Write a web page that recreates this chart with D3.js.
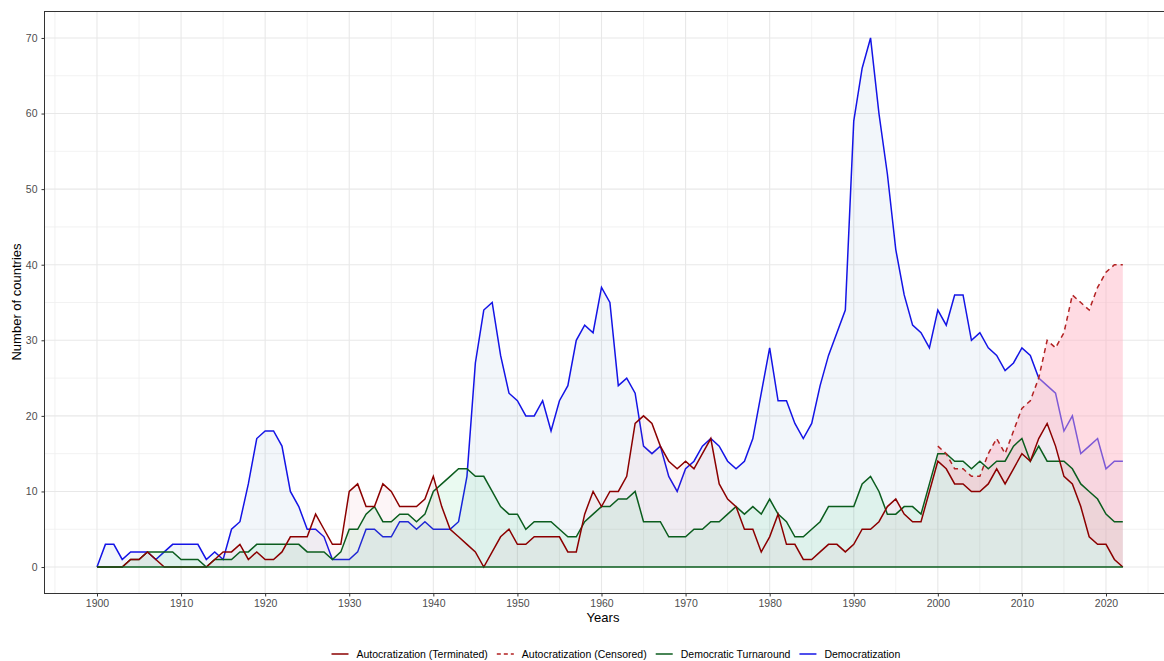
<!DOCTYPE html>
<html>
<head>
<meta charset="utf-8">
<script src="https://cdn.jsdelivr.net/npm/d3@7"></script>
<style>
    body { margin: 0; background: #fff; }
    svg { display: block; font-family: "Liberation Sans", Arial, sans-serif; }
</style>
</head>
<body>
<div id="chart"></div>
<script>
// years 1900 - 2022
let years = d3.range(1900, 2023);

// Democratization (blue)
let democratization = [
    0, 3, 3, 1, 2, 2, 2, 1, 2, 3,
    3, 3, 3, 1, 2, 1, 5, 6, 11, 17,
    18, 18, 16, 10, 8, 5, 5, 4, 1, 1,
    1, 2, 5, 5, 4, 4, 6, 6, 5, 6,
    5, 5, 5, 6, 12, 27, 34, 35, 28, 23,
    22, 20, 20, 22, 18, 22, 24, 30, 32, 31,
    37, 35, 24, 25, 23, 16, 15, 16, 12, 10,
    13, 14, 16, 17, 16, 14, 13, 14, 17, 23,
    29, 22, 22, 19, 17, 19, 24, 28, 31, 34,
    59, 66, 70, 60, 52, 42, 36, 32, 31, 29,
    34, 32, 36, 36, 30, 31, 29, 28, 26, 27,
    29, 28, 25, 24, 23, 18, 20, 15, 16, 17,
    13, 14, 14
];

// Autocratization (Terminated)
let autocTerminated = [
    0, 0, 0, 0, 1, 1, 2, 1, 0, 0,
    0, 0, 0, 0, 1, 2, 2, 3, 1, 2,
    1, 1, 2, 4, 4, 4, 7, 5, 3, 3,
    10, 11, 8, 8, 11, 10, 8, 8, 8, 9,
    12, 8, 5, 4, 3, 2, 0, 2, 4, 5,
    3, 3, 4, 4, 4, 4, 2, 2, 7, 10,
    8, 10, 10, 12, 19, 20, 19, 16, 14, 13,
    14, 13, 15, 17, 11, 9, 8, 5, 5, 2,
    4, 7, 3, 3, 1, 1, 2, 3, 3, 2,
    3, 5, 5, 6, 8, 9, 7, 6, 6, 10,
    14, 13, 11, 11, 10, 10, 11, 13, 11, 13,
    15, 14, 17, 19, 16, 12, 11, 8, 4, 3,
    3, 1, 0
];

// Democratic Turnaround
let demTurnaround = [
    0, 0, 0, 0, 1, 1, 2, 2, 2, 2,
    1, 1, 1, 0, 1, 1, 1, 2, 2, 3,
    3, 3, 3, 3, 3, 2, 2, 2, 1, 2,
    5, 5, 7, 8, 6, 6, 7, 7, 6, 7,
    10, 11, 12, 13, 13, 12, 12, 10, 8, 7,
    7, 5, 6, 6, 6, 5, 4, 4, 6, 7,
    8, 8, 9, 9, 10, 6, 6, 6, 4, 4,
    4, 5, 5, 6, 6, 7, 8, 7, 8, 7,
    9, 7, 6, 4, 4, 5, 6, 8, 8, 8,
    8, 11, 12, 10, 7, 7, 8, 8, 7, 11,
    15, 15, 14, 14, 13, 14, 13, 14, 14, 16,
    17, 14, 16, 14, 14, 14, 13, 11, 10, 9,
    7, 6, 6
];

// Autocratization (Censored), 2000 - 2022
let censoredYears = d3.range(2000, 2023);
let autocCensored = [
    16, 15, 13, 13, 12, 12, 15, 17, 15, 18,
    21, 22, 25, 30, 29, 31, 36, 35, 34, 37,
    39, 40, 40
];

let xTicks = d3.range(1900, 2021, 10);
let yTicks = d3.range(0, 71, 10);

let legendItems = [
    {name: "Autocratization (Terminated)", color: "#8b0000", dash: null},
    {name: "Autocratization (Censored)", color: "#b22222", dash: "4,3"},
    {name: "Democratic Turnaround", color: "#0b5d1e", dash: null},
    {name: "Democratization", color: "#1414e6", dash: null}
];

window.onload = function () {
    plot();
};

let toPoints = function (xs, vals) {
    return xs.map(function (yr, i) {
        return {year: yr, value: vals[i]};
    });
};

function plot() {
    let width = 1164, height = 661;
    let left = 44.5, top = 11.5, bottom = 593.5;

    let svg = d3.select("#chart").append("svg")
        .attr("width", width)
        .attr("height", height);

    // scales (ggplot style 5% expansion, the right side runs past the picture)
    let x = d3.scaleLinear().domain([1893.9, 2028.1]).range([45.7, 1174.1]);
    let y = d3.scaleLinear().domain([-3.5, 73.5]).range([bottom, top]);

    svg.append("clipPath").attr("id", "panel")
        .append("rect")
        .attr("x", left).attr("y", top)
        .attr("width", width - left).attr("height", bottom - top);

    let panel = svg.append("g").attr("clip-path", "url(#panel)");

    // grid
    let minorX = d3.range(1895, 2030, 10);
    let minorY = d3.range(5, 75, 10);
    panel.selectAll(".gxm").data(minorX).enter().append("line")
        .attr("x1", d => x(d)).attr("x2", d => x(d))
        .attr("y1", top).attr("y2", bottom)
        .attr("stroke", "#efefef").attr("stroke-width", 0.8);
    panel.selectAll(".gym").data(minorY).enter().append("line")
        .attr("x1", left).attr("x2", width)
        .attr("y1", d => y(d)).attr("y2", d => y(d))
        .attr("stroke", "#efefef").attr("stroke-width", 0.8);
    panel.selectAll(".gx").data(d3.range(1890, 2030, 10)).enter().append("line")
        .attr("x1", d => x(d)).attr("x2", d => x(d))
        .attr("y1", top).attr("y2", bottom)
        .attr("stroke", "#e8e8e8").attr("stroke-width", 1.1);
    panel.selectAll(".gy").data(yTicks).enter().append("line")
        .attr("x1", left).attr("x2", width)
        .attr("y1", d => y(d)).attr("y2", d => y(d))
        .attr("stroke", "#e8e8e8").attr("stroke-width", 1.1);

    let area = d3.area()
        .x(d => x(d.year))
        .y0(y(0))
        .y1(d => y(d.value));
    let line = d3.line()
        .x(d => x(d.year))
        .y(d => y(d.value));

    let demo = toPoints(years, democratization);
    let term = toPoints(years, autocTerminated);
    let turn = toPoints(years, demTurnaround);
    let cens = toPoints(censoredYears, autocCensored);

    // censored ribbon runs from the terminated line up to the censored line
    let censRibbon = d3.area()
        .x(d => x(d.year))
        .y0(d => y(autocTerminated[years.indexOf(d.year)]))
        .y1(d => y(d.value));

    // areas and lines, the later fills tint the blue line below them
    panel.append("path").attr("d", area(demo))
        .attr("fill", "#4682b4").attr("fill-opacity", 0.07);
    panel.append("path").attr("d", line(demo))
        .attr("fill", "none").attr("stroke", "#1414e6").attr("stroke-width", 1.5);

    panel.append("path").attr("d", area(turn))
        .attr("fill", "#2ecc71").attr("fill-opacity", 0.1);
    panel.append("path").attr("d", area(term))
        .attr("fill", "#e05070").attr("fill-opacity", 0.06);
    panel.append("path").attr("d", censRibbon(cens))
        .attr("fill", "#ffb0c0").attr("fill-opacity", 0.45);

    panel.append("path").attr("d", line(turn))
        .attr("fill", "none").attr("stroke", "#0b5d1e").attr("stroke-width", 1.5);
    panel.append("path").attr("d", line(term))
        .attr("fill", "none").attr("stroke", "#8b0000").attr("stroke-width", 1.5);
    panel.append("path").attr("d", line(cens))
        .attr("fill", "none").attr("stroke", "#b22222").attr("stroke-width", 1.5)
        .attr("stroke-dasharray", "5,4");

    // zero base line
    panel.append("path").attr("d", line(toPoints([1900, 2022], [0, 0])))
        .attr("stroke", "#0b5d1e").attr("stroke-width", 1.5);

    // panel border
    svg.append("rect")
        .attr("x", left).attr("y", top)
        .attr("width", 1174 - left).attr("height", bottom - top)
        .attr("fill", "none").attr("stroke", "#333").attr("stroke-width", 1);

    // axes
    let xAxis = d3.axisBottom(x).tickValues(xTicks).tickFormat(d3.format("d"))
        .tickSize(3).tickPadding(3);
    let gx = svg.append("g").attr("transform", "translate(0," + bottom + ")").call(xAxis);
    let yAxis = d3.axisLeft(y).tickValues(yTicks).tickSize(3).tickPadding(4);
    let gy = svg.append("g").attr("transform", "translate(" + left + ",0)").call(yAxis);
    [gx, gy].forEach(function (g) {
        g.select(".domain").remove();
        g.selectAll(".tick line").attr("stroke", "#333");
        g.selectAll(".tick text").attr("fill", "#4d4d4d")
            .style("font-size", "10.5px").style("font-family", "Liberation Sans, Arial, sans-serif");
    });

    // axis titles
    svg.append("text")
        .attr("x", 603).attr("y", 622)
        .attr("text-anchor", "middle")
        .style("font-size", "13px")
        .text("Years");
    svg.append("text")
        .attr("transform", "translate(21,302) rotate(-90)")
        .attr("text-anchor", "middle")
        .style("font-size", "13px")
        .text("Number of countries");

    // legend
    let legend = svg.append("g").attr("transform", "translate(0,654)");
    let lx = 331.5;
    legendItems.forEach(function (item) {
        legend.append("line")
            .attr("x1", lx).attr("x2", lx + 17)
            .attr("y1", 0).attr("y2", 0)
            .attr("stroke", item.color).attr("stroke-width", 1.5)
            .attr("stroke-dasharray", item.dash);
        let t = legend.append("text")
            .attr("x", lx + 25).attr("y", 4)
            .style("font-size", "10.5px")
            .text(item.name);
        lx = lx + 25 + t.node().getComputedTextLength() + 9;
    });
}
</script>
</body>
</html>
